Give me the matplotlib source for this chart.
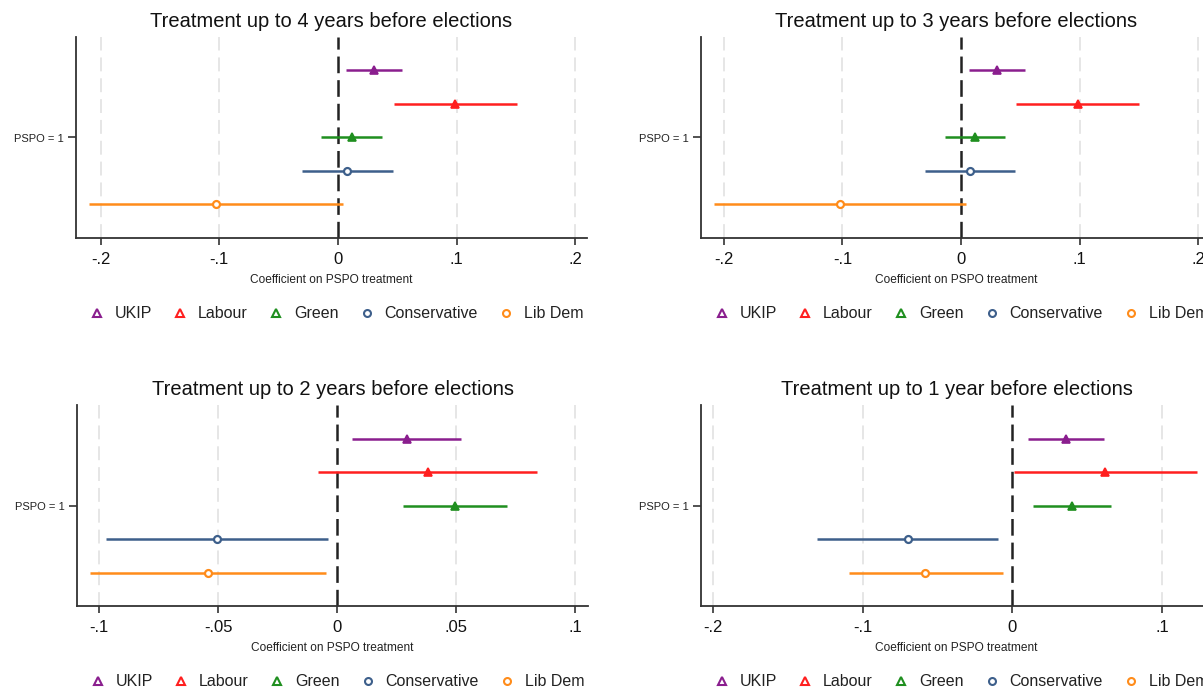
import matplotlib
matplotlib.use("Agg")
import matplotlib.pyplot as plt
from matplotlib.lines import Line2D

plt.rcParams['font.family'] = ['Liberation Sans', 'DejaVu Sans']
plt.rcParams['lines.scale_dashes'] = False

parties = ["UKIP", "Labour", "Green", "Conservative", "Lib Dem"]
colors = ["#8a1e8e", "#ff1f1f", "#1f8f1f", "#3d5f8b", "#ff8c1a"]
markers = ["^", "^", "^", "o", "o"]

titles = ["Treatment up to 4 years before elections",
          "Treatment up to 3 years before elections",
          "Treatment up to 2 years before elections",
          "Treatment up to 1 year before elections"]

# point estimates and confidence bounds, per panel (order: parties)
coef_4y = [0.030, 0.0985, 0.0115, 0.0073, -0.1025]
lo_4y = [0.0066, 0.047, -0.0144, -0.0305, -0.2095]
hi_4y = [0.054, 0.151, 0.037, 0.046, 0.0043]

coef_3y = [0.0305, 0.0984, 0.012, 0.0075, -0.102]
lo_3y = [0.0065, 0.0468, -0.0138, -0.0306, -0.2085]
hi_3y = [0.054, 0.1506, 0.037, 0.0459, 0.0042]

coef_2y = [0.0293, 0.038, 0.0495, -0.0506, -0.0544]
lo_2y = [0.0063, -0.0082, 0.0277, -0.0971, -0.104]
hi_2y = [0.0522, 0.0841, 0.0715, -0.0038, -0.0046]

coef_1y = [0.0358, 0.0619, 0.0401, -0.070, -0.0583]
lo_1y = [0.0107, 0.0013, 0.014, -0.1309, -0.1094]
hi_1y = [0.0613, 0.1232, 0.0657, -0.0094, -0.0064]

ticks_a = [-0.2, -0.1, 0, 0.1, 0.2]
ticklabels_a = ["-.2", "-.1", "0", ".1", ".2"]
ticks_b = [-0.1, -0.05, 0, 0.05, 0.1]
ticklabels_b = ["-.1", "-.05", "0", ".05", ".1"]

panels = [
    (coef_4y, lo_4y, hi_4y, ticks_a, ticklabels_a, (-0.2207, 0.2097)),
    (coef_3y, lo_3y, hi_3y, ticks_a, ticklabels_a, (-0.2194, 0.2118)),
    (coef_2y, lo_2y, hi_2y, ticks_b, ticklabels_b, (-0.1094, 0.1054)),
    (coef_1y, lo_1y, hi_1y, ticks_a, ticklabels_a, (-0.2083, 0.1335)),
]

W, H = 1203, 690
fig = plt.figure(figsize=(W / 100, H / 100), dpi=100)

# axes boxes in pixels: left, top, width, height
boxes = [(76, 37, 511, 201), (701, 37, 511, 201),
         (77, 405, 511, 201), (701, 405, 511, 201)]

for (coef, lo, hi, ticks, tlabels, xl), (l, t, w, h), title in zip(panels, boxes, titles):
    ax = fig.add_axes([l / W, 1 - (t + h) / H, w / W, h / H])
    ax.set_xticks(ticks)
    ax.set_xticklabels(tlabels, fontsize=12, color="#111111")
    ax.set_xlim(*xl)
    ax.set_ylim(6, 0)
    for tk in ticks:
        if tk != 0:
            ax.axvline(tk, color="#e6e6e6", lw=1.4, ls=(0, (10, 5)), zorder=0)
    ax.axvline(0, color="#222222", lw=1.8, ls=(0, (12, 5)), zorder=1)
    for i in range(len(parties)):
        y = i + 1
        ax.plot([lo[i], hi[i]], [y, y], color=colors[i], lw=1.8, zorder=2,
                solid_capstyle='butt')
        if markers[i] == "^":
            ax.plot([coef[i]], [y], marker="^", color=colors[i], markersize=5.5,
                    markerfacecolor=colors[i], markeredgewidth=1.2, zorder=3)
        else:
            ax.plot([coef[i]], [y], marker="o", color=colors[i], markersize=5,
                    markerfacecolor='white', markeredgewidth=1.6, zorder=3)
    ax.set_yticks([3])
    ax.set_yticklabels(["PSPO = 1"], fontsize=8, color="#222222")
    ax.tick_params(axis='x', length=5, width=1.2, pad=5, color="#333333")
    ax.tick_params(axis='y', length=6, width=1.2, pad=3, color="#333333")
    for s in ["top", "right"]:
        ax.spines[s].set_visible(False)
    for s in ["left", "bottom"]:
        ax.spines[s].set_linewidth(1.3)
        ax.spines[s].set_color("#333333")
    ax.text(0.5, 1.075, title, transform=ax.transAxes, ha='center', va='center',
            fontsize=14.5, color="#111111")
    ax.text(0.5, -0.209, "Coefficient on PSPO treatment", transform=ax.transAxes,
            ha='center', va='center', fontsize=8.6, color="#222222")
    handles = [Line2D([], [], ls='none', marker=m, color=c, markerfacecolor='none',
                      markeredgewidth=1.5, markersize=6 if m == "^" else 5)
               for m, c in zip(markers, colors)]
    ax.legend(handles, parties, loc='center', bbox_to_anchor=(0.509, -0.378),
              ncol=5, frameon=False, fontsize=11.5, handlelength=1.0,
              handletextpad=0.6, columnspacing=1.28, borderpad=0,
              labelcolor="#222222")

fig.savefig("out.png", dpi=100, facecolor="white")
